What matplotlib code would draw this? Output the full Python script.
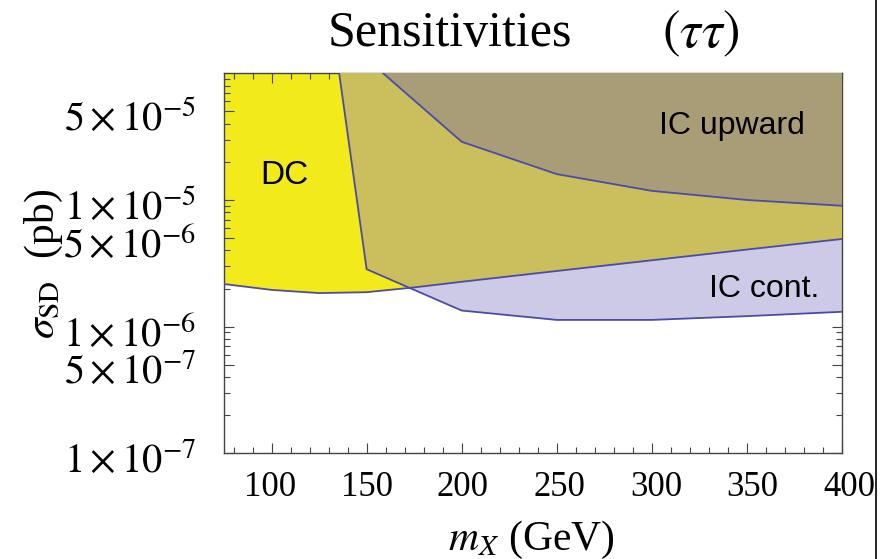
import matplotlib
matplotlib.use("Agg")
import matplotlib.pyplot as plt
from matplotlib.patches import Polygon
from matplotlib.lines import Line2D
from matplotlib.ticker import FixedLocator, FixedFormatter, NullFormatter
import matplotlib.transforms as mtrans

plt.rcParams['mathtext.fontset'] = 'stix'
plt.rcParams['font.family'] = ['Liberation Serif', 'DejaVu Serif']

# ---- data ----
dc_x = [75, 100, 125, 150, 175, 200, 250, 300, 350, 400]
dc_y = [2.17e-6, 1.95e-6, 1.84e-6, 1.87e-6, 2.04e-6, 2.26e-6, 2.75e-6, 3.34e-6, 4.06e-6, 4.92e-6]

iccont_x = [135, 150, 200, 250, 300, 350, 400]
iccont_y = [1.15e-4, 2.84e-6, 1.34e-6, 1.13e-6, 1.13e-6, 1.21e-6, 1.31e-6]

icup_x = [150, 200, 250, 300, 350, 400]
icup_y = [1.3e-4, 2.88e-5, 1.60e-5, 1.18e-5, 1.0e-5, 9.0e-6]

x_ticks = [100, 150, 200, 250, 300, 350, 400]
x_ticklabels = ['100', '150', '200', '250', '300', '350', '400']
y_ticks = [1e-7, 5e-7, 1e-6, 5e-6, 1e-5, 5e-5]
y_ticklabels = [r'$1\times10^{-7}$', r'$5\times10^{-7}$', r'$1\times10^{-6}$',
                r'$5\times10^{-6}$', r'$1\times10^{-5}$', r'$5\times10^{-5}$']

region_labels = ['DC', 'IC upward', 'IC cont.']

# ---- styles ----
c_yellow = '#F2EA1A'
c_lav = '#CCCAE6'
c_olive = '#CABE5D'
c_brown = '#A99D78'
c_line = '#4B4BA8'

XMIN, XMAX = 75, 400
YMIN, YMAX = 1e-7, 1e-4
YTOP = 1e-2

fig = plt.figure(figsize=(8.92, 5.59), dpi=100)
ax = fig.add_axes([224/892, 1-453.3/559, (842-224)/892, (453.3-73.3)/559])
ax.set_yscale('log')
ax.set_xlim(XMIN, XMAX)
ax.set_ylim(YMIN, YMAX)

def region(xs, ys):
    return list(zip(xs, ys)) + [(xs[-1], YTOP), (xs[0], YTOP)]

dc_patch = Polygon(region(dc_x, dc_y), closed=True, facecolor=c_yellow, edgecolor='none', zorder=1)
ax.add_patch(dc_patch)
icc_patch = Polygon(region(iccont_x, iccont_y), closed=True, facecolor=c_lav, edgecolor='none', zorder=2)
ax.add_patch(icc_patch)
ov_patch = Polygon(region(iccont_x, iccont_y), closed=True, facecolor=c_olive, edgecolor='none', zorder=3)
ax.add_patch(ov_patch)
ov_patch.set_clip_path(dc_patch)
icu_patch = Polygon(region(icup_x, icup_y), closed=True, facecolor=c_brown, edgecolor='none', zorder=4)
ax.add_patch(icu_patch)

for xs, ys in [(dc_x, dc_y), (iccont_x, iccont_y), (icup_x, icup_y)]:
    ax.plot(xs, ys, color=c_line, lw=1.3, zorder=5)

sans = ['Liberation Sans', 'DejaVu Sans']
ax.text(107, 1.57e-5, region_labels[0], fontsize=24, family=sans, ha='center', va='center', zorder=6)
ax.text(342, 3.84e-5, region_labels[1], fontsize=23, family=sans, ha='center', va='center', zorder=6)
ax.text(359, 1.99e-6, region_labels[2], fontsize=23, family=sans, ha='center', va='center', zorder=6)

# ticks
ax.xaxis.set_major_locator(FixedLocator(x_ticks))
ax.xaxis.set_major_formatter(FixedFormatter(x_ticklabels))
ax.xaxis.set_minor_locator(FixedLocator([v for v in range(80, 400, 10) if v % 50]))
ax.yaxis.set_major_locator(FixedLocator(y_ticks))
ax.yaxis.set_major_formatter(FixedFormatter(y_ticklabels))
minors = []
for e in (-7, -6, -5):
    for m in (2, 3, 4, 6, 7, 8, 9):
        minors.append(m * 10.0**e)
ax.yaxis.set_minor_locator(FixedLocator(minors))
ax.yaxis.set_minor_formatter(NullFormatter())

ax.tick_params(which='both', direction='in', top=True, right=True, color='#444444', width=0.8)
ax.tick_params(which='major', length=7)
ax.tick_params(which='minor', length=4)
ax.tick_params(axis='x', labelsize=25, pad=13)
ax.tick_params(axis='y', labelsize=29, pad=20)
for s in ax.spines.values():
    s.set_color('#444444')
    s.set_linewidth(1.0)

x_off = [-1.7, 0.3, 1.2, 2.6, 4.0, 5.7, 7.0]
for lab, dx in zip(ax.get_xticklabels(), x_off):
    lab.set_transform(lab.get_transform() + mtrans.ScaledTranslation(dx/100, 0, fig.dpi_scale_trans))
for lab in ax.get_yticklabels():
    lab.set_transform(lab.get_transform() + mtrans.ScaledTranslation(0, -4/100, fig.dpi_scale_trans))

fig.text(450/892, 1-34/559, 'Sensitivities', fontsize=36, ha='center', va='center')
fig.text(701/892, 1-34/559, r'$(\tau\tau)$', fontsize=38, ha='center', va='center')

ax.set_xlabel(r'$m_X$ (GeV)', fontsize=30)
ax.xaxis.set_label_coords(0.498, -0.172)
ax.set_ylabel(r'$\sigma_{\rm SD}$  (pb)', fontsize=30)
ax.yaxis.set_label_coords(-0.257, 0.498)

fig.add_artist(Line2D([876/892, 876/892], [0, 1], color='black', lw=1.2))

fig.savefig('out.png', dpi=100)
